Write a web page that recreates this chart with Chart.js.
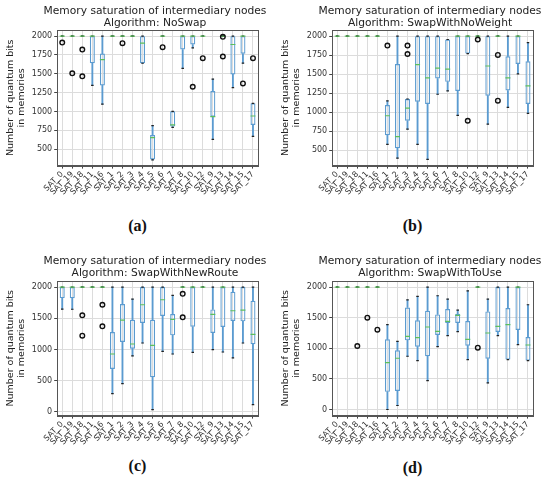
<!DOCTYPE html>
<html>
<head>
<meta charset="utf-8">
<script src="https://cdn.jsdelivr.net/npm/chart.js@4.4.0/dist/chart.umd.min.js"></script>
<style>
  body { margin: 0; background: #fff; width: 550px; height: 490px; position: relative; overflow: hidden; }
  .panel { position: absolute; width: 275px; height: 245px; }
  .panel canvas { position: absolute; left: 0; top: 0; }
  .title { position: absolute; left: 35px; width: 240px; text-align: center; font: 10.7px "DejaVu Sans", sans-serif; line-height: 12px; color: #222; white-space: nowrap; }
  .tag { position: absolute; left: 0; width: 275px; text-align: center; font: bold 16px "Liberation Serif", serif; color: #111; }
</style>
</head>
<body>
<div class="panel" style="left:0;top:0">
  <canvas id="chartA" width="275" height="200"></canvas>
  <div class="title" style="top:5px">Memory saturation of intermediary nodes<br>Algorithm: NoSwap</div>
  <div class="tag" style="top:217px">(a)</div>
</div>
<div class="panel" style="left:275px;top:0">
  <canvas id="chartB" width="275" height="200"></canvas>
  <div class="title" style="top:5px">Memory saturation of intermediary nodes<br>Algorithm: SwapWithNoWeight</div>
  <div class="tag" style="top:217px">(b)</div>
</div>
<div class="panel" style="left:0;top:245px">
  <canvas id="chartC" width="275" height="203"></canvas>
  <div class="title" style="top:10px">Memory saturation of intermediary nodes<br>Algorithm: SwapWithNewRoute</div>
  <div class="tag" style="top:212px">(c)</div>
</div>
<div class="panel" style="left:275px;top:245px">
  <canvas id="chartD" width="275" height="203"></canvas>
  <div class="title" style="top:10px">Memory saturation of intermediary nodes<br>Algorithm: SwapWithToUse</div>
  <div class="tag" style="top:214px">(d)</div>
</div>
<script>
const categories = ['SAT_0','SAT_19','SAT_18','SAT_11','SAT_16','SAT_1','SAT_2','SAT_3','SAT_4','SAT_5',
                    'SAT_6','SAT_7','SAT_8','SAT_10','SAT_12','SAT_9','SAT_13','SAT_14','SAT_15','SAT_17'];

// (a) NoSwap
const noSwapLow  = [2000,2000,2000,1346,1097,2000,2000,2000,1640,355,2000,789,1571,1845,2000,628,2000,1315,1642,669];
const noSwapQ1   = [2000,2000,2000,1640,1346,2000,2000,2000,1640,362,2000,798,1823,1889,2000,930,2000,1492,1766,820];
const noSwapMed  = [2000,2000,2000,2000,1688,2000,2000,2000,1907,652,2000,820,2000,2000,2000,930,2000,1889,2000,939];
const noSwapQ3   = [2000,2000,2000,2000,1769,2000,2000,2000,2000,687,2000,1001,2000,2000,2000,1271,2000,2000,2000,1107];
const noSwapHigh = [2000,2000,2000,2000,2000,2000,2000,2000,2000,812,2000,1001,2000,2000,2000,1429,2000,2000,2000,1107];
const noSwapOut  = [['SAT_0',1915],['SAT_19',1506],['SAT_18',1822],['SAT_18',1466],['SAT_2',1907],['SAT_6',1854],
                    ['SAT_10',1328],['SAT_12',1708],['SAT_13',1991],['SAT_13',1730],['SAT_15',1372],['SAT_17',1708]];

// (b) SwapWithNoWeight
const noWeightLow  = [2000,2000,2000,2000,2000,580,399,778,580,382,1237,1281,959,1771,2000,845,2000,1065,1506,986];
const noWeightQ1   = [2000,2000,2000,2000,2000,699,527,889,1140,1109,1444,1400,1281,1771,2000,1219,2000,1286,1634,1109];
const noWeightMed  = [2000,2000,2000,2000,2000,955,681,1056,1625,1453,1581,1568,2000,2000,2000,1608,2000,1453,2000,1347];
const noWeightQ3   = [2000,2000,2000,2000,2000,1096,1634,1175,2000,2000,2000,1956,2000,2000,2000,2000,2000,1735,2000,1669];
const noWeightHigh = [2000,2000,2000,2000,2000,1149,2000,1175,2000,2000,2000,1956,2000,2000,2000,2000,2000,2000,2000,1916];
const noWeightOut  = [['SAT_1',1877],['SAT_3',1877],['SAT_3',1766],['SAT_10',889],['SAT_12',1956],['SAT_13',1753],['SAT_13',1153]];

// (c) SwapWithNewRoute
const newRouteLow  = [1648,1645,2000,2000,2000,293,453,896,1104,37,971,928,2000,955,2000,997,960,864,1104,117];
const newRouteQ1   = [1824,1822,2000,2000,2000,688,1120,1013,1424,555,1536,1227,2000,1365,2000,1264,1360,1456,1451,1083];
const newRouteMed  = [2000,2000,2000,2000,2000,928,1472,1088,1717,1067,1797,1483,2000,2000,2000,1563,2000,1621,1632,1243];
const newRouteQ3   = [2000,2000,2000,2000,2000,1280,1728,1477,2000,1477,2000,1568,2000,2000,2000,1643,2000,1925,2000,1781];
const newRouteHigh = [2000,2000,2000,2000,2000,2000,2000,1808,2000,2000,2000,1867,2000,2000,2000,2000,2000,2000,2000,2000];
const newRouteOut  = [['SAT_18',1547],['SAT_18',1221],['SAT_16',1717],['SAT_16',1371],['SAT_8',1893],['SAT_8',1515]];

// (d) SwapWithToUse
const toUseLow  = [2000,2000,2000,2000,2000,0,65,870,799,473,1027,1206,1272,815,2000,435,1206,815,1060,799];
const toUseQ1   = [2000,2000,2000,2000,2000,288,304,1130,1027,870,1217,1413,1413,1043,2000,831,1266,815,1299,799];
const toUseMed  = [2000,2000,2000,2000,2000,766,837,1196,1174,1348,1277,1440,1538,1147,2000,1250,1359,1386,2000,1054];
const toUseQ3   = [2000,2000,2000,2000,2000,1147,967,1668,1457,1614,1554,1641,1565,1446,2000,1603,2000,1658,2000,1185];
const toUseHigh = [2000,2000,2000,2000,2000,1386,1114,1793,1848,2000,1859,1804,1625,1940,2000,1804,2000,2000,2000,1712];
const toUseOut  = [['SAT_18',1038],['SAT_11',1500],['SAT_16',1304],['SAT_12',1011]];

const yTicksAB = [500,750,1000,1250,1500,1750,2000];
const yTicksCD = [0,500,1000,1500,2000];

const BLUE = '#5b9bd0';
const GREEN = '#5cbf5c';
const FONT = '"DejaVu Sans", sans-serif';

// axes box on all four sides, like matplotlib spines
const frame = {
  id: 'frame',
  afterDraw(chart) {
    const a = chart.chartArea, c = chart.ctx;
    c.save();
    c.strokeStyle = '#555';
    c.lineWidth = 1;
    c.strokeRect(Math.round(a.left) + 0.5, Math.round(a.top) + 0.5, Math.round(a.right - a.left), Math.round(a.bottom - a.top));
    c.restore();
  }
};

function halfWidth(frac) {
  return (ctx) => ctx.chart.chartArea ? ctx.chart.chartArea.width / categories.length * frac : 2.5;
}

function makeChart(id, low, q1, med, q3, high, out, yMin, yMax, yTicks, pad) {
  const marks = (vals, color, frac, order) => ({
    type: 'line', data: vals, showLine: false, order: order,
    pointStyle: 'line', pointRadius: halfWidth(frac), pointHoverRadius: halfWidth(frac),
    borderColor: color, pointBorderWidth: 1.2
  });
  new Chart(document.getElementById(id), {
    type: 'bar',
    data: {
      labels: categories,
      datasets: [
        {
          type: 'line', data: out.map(o => ({ x: o[0], y: o[1] })), showLine: false, order: 0,
          pointStyle: 'circle', pointRadius: 2.3, pointBorderWidth: 1.4,
          borderColor: '#111', backgroundColor: 'rgba(0,0,0,0)'
        },
        marks(med, GREEN, 0.25, 1),
        marks(low, '#222', 0.125, 2),
        marks(high, '#222', 0.125, 2),
        {
          data: categories.map((c, i) => [q1[i], q3[i]]), grouped: false, order: 3,
          barPercentage: 0.5, categoryPercentage: 1,
          backgroundColor: 'rgba(0,0,0,0)', borderColor: BLUE, borderWidth: 1.2, borderSkipped: false
        },
        {
          data: categories.map((c, i) => [low[i], q1[i]]), grouped: false, order: 4,
          barThickness: 1.2, backgroundColor: BLUE, borderWidth: 0
        },
        {
          data: categories.map((c, i) => [q3[i], high[i]]), grouped: false, order: 4,
          barThickness: 1.2, backgroundColor: BLUE, borderWidth: 0
        }
      ]
    },
    options: {
      responsive: false,
      animation: false,
      events: [],
      layout: { padding: pad },
      plugins: {
        legend: { display: false },
        tooltip: { enabled: false },
        title: { display: false }
      },
      scales: {
        x: {
          grid: { offset: false, color: '#dcdcdc', tickColor: '#444', tickLength: 3 },
          border: { display: true, color: '#555' },
          ticks: {
            autoSkip: false, maxRotation: 45, minRotation: 45, padding: 1,
            color: '#333', font: { family: FONT, size: 8 }
          }
        },
        y: {
          min: yMin, max: yMax,
          afterBuildTicks: (scale) => { scale.ticks = yTicks.map(v => ({ value: v })); },
          grid: { color: '#dcdcdc', tickColor: '#444', tickLength: 3 },
          border: { display: true, color: '#555' },
          ticks: { color: '#333', padding: 2, font: { family: FONT, size: 8 }, callback: (v) => String(v) },
          title: {
            display: true, text: ['Number of quantum bits', 'in memories'], color: '#222',
            font: { family: FONT, size: 9.5, lineHeight: 1.15 }, padding: { top: 0, bottom: 3 }
          }
        }
      }
    },
    plugins: [frame]
  });
}

makeChart('chartA', noSwapLow, noSwapQ1, noSwapMed, noSwapQ3, noSwapHigh, noSwapOut,
          280, 2082, yTicksAB, { left: 5, right: 17, top: 30, bottom: 2 });
makeChart('chartB', noWeightLow, noWeightQ1, noWeightMed, noWeightQ3, noWeightHigh, noWeightOut,
          300, 2081, yTicksAB, { left: 5, right: 17, top: 30, bottom: 2 });
makeChart('chartC', newRouteLow, newRouteQ1, newRouteMed, newRouteQ3, newRouteHigh, newRouteOut,
          -60, 2098, yTicksCD, { left: 5, right: 17, top: 36, bottom: 0 });
makeChart('chartD', toUseLow, toUseQ1, toUseMed, toUseQ3, toUseHigh, toUseOut,
          -100, 2100, yTicksCD, { left: 5, right: 17, top: 36, bottom: 0 });
</script>
</body>
</html>
